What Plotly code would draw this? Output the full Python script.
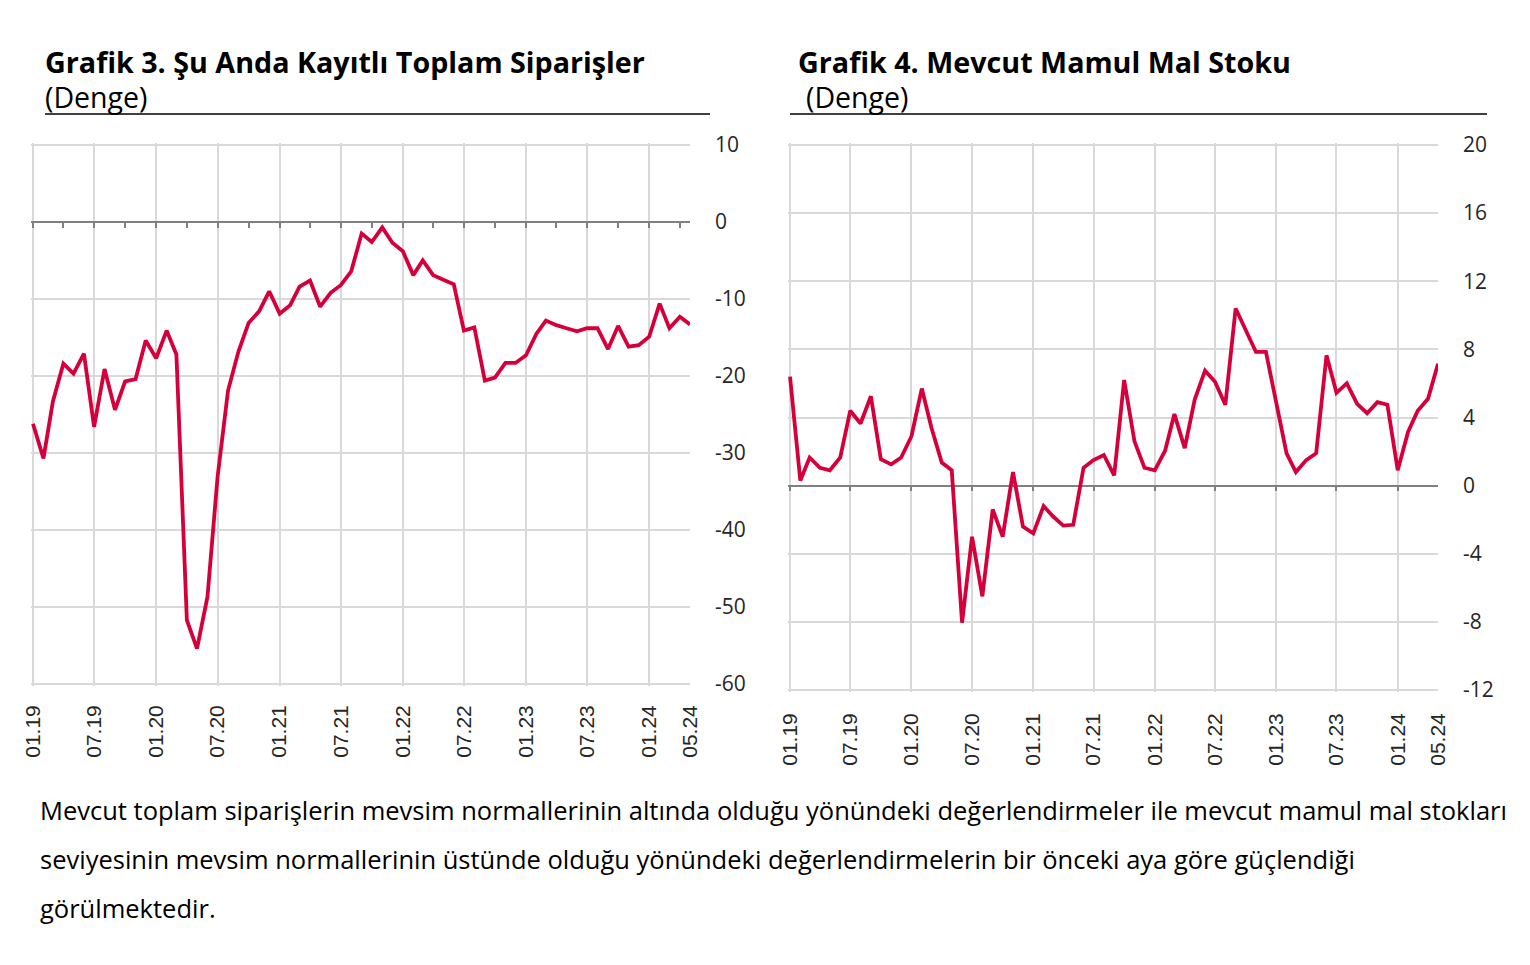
import pandas as pd
import plotly.graph_objects as go

W, H = 1530, 965

# ---- data ----
months = pd.date_range("2019-01-01", "2024-05-01", freq="MS")
label_months = list(pd.date_range("2019-01-01", "2024-01-01", freq="6MS")) + [pd.Timestamp("2024-05-01")]
label_text = [d.strftime("%m.%y") for d in label_months]
grid_months = list(pd.date_range("2019-01-01", "2024-01-01", freq="6MS"))
minor_months = list(pd.date_range("2019-01-01", "2024-04-01", freq="3MS"))

siparis = [-26.2, -30.7, -23.3, -18.4, -19.7, -17.1, -26.6, -19.1, -24.4, -20.7,
           -20.4, -15.4, -17.7, -14.1, -17.2, -51.7, -55.4, -48.7, -33.1, -21.9,
           -16.8, -13.1, -11.6, -9.0, -11.9, -10.8, -8.4, -7.6, -11.0, -9.2,
           -8.2, -6.4, -1.5, -2.6, -0.7, -2.7, -3.8, -6.9, -5.0, -6.9,
           -7.5, -8.1, -14.1, -13.7, -20.6, -20.2, -18.3, -18.3, -17.3, -14.5,
           -12.8, -13.4, -13.8, -14.2, -13.8, -13.8, -16.5, -13.5, -16.2, -16.0,
           -14.9, -10.6, -13.8, -12.3, -13.3]
stok = [6.4, 0.3, 1.65, 1.05, 0.9, 1.65, 4.4, 3.65, 5.25, 1.55,
        1.25, 1.65, 2.9, 5.7, 3.4, 1.35, 0.9, -8.05, -3.0, -6.5,
        -1.4, -3.0, 0.8, -2.4, -2.8, -1.2, -1.8, -2.35, -2.3, 1.05,
        1.5, 1.8, 0.6, 6.2, 2.6, 1.05, 0.9, 2.05, 4.2, 2.2,
        5.05, 6.75, 6.1, 4.75, 10.4, 9.2, 7.85, 7.85, 4.85, 1.9,
        0.8, 1.5, 1.9, 7.65, 5.45, 6.0, 4.8, 4.25, 4.9, 4.75,
        0.9, 3.15, 4.4, 5.1, 7.15]

y1_ticks = [10, 0, -10, -20, -30, -40, -50, -60]
y2_ticks = [20, 16, 12, 8, 4, 0, -4, -8, -12]
y1_text = [str(v) for v in y1_ticks]
y2_text = [str(v) for v in y2_ticks]

title1 = "Grafik 3. Şu Anda Kayıtlı Toplam Siparişler"
title2 = "Grafik 4. Mevcut Mamul Mal Stoku"
subtitle = "(Denge)"
paragraph = [
    "Mevcut toplam siparişlerin mevsim normallerinin altında olduğu yönündeki değerlendirmeler ile mevcut mamul mal stokları",
    "seviyesinin mevsim normallerinin üstünde olduğu yönündeki değerlendirmelerin bir önceki aya göre güçlendiği",
    "görülmektedir.",
]

# ---- layout geometry (pixels) ----
def px(x):
    return x / W

def py(y):
    return 1 - y / H

RED = "#D5003B"
GRID = "#D9D9D9"
AXIS = "#808080"
TXT = "#262626"
PAD = 2  # px of padding so edge gridlines are drawn

# plot boxes in pixels: left, right, top, bottom
box1 = (33, 690, 145, 684)
box2 = (790, 1438, 145, 690)

def y_setup(box, ticks):
    lo, hi = min(ticks), max(ticks)
    upp = (hi - lo) / (box[3] - box[2])  # units per px
    rng = [lo - PAD * upp, hi + PAD * upp]
    dom = [py(box[3] + PAD), py(box[2] - PAD)]
    return dom, rng

def x_setup(box):
    span = months[-1] - months[0]
    per_px = span / (box[1] - box[0])
    rng = [months[0] - PAD * per_px, months[-1]]
    dom = [px(box[0] - PAD), px(box[1])]
    return dom, rng

yd1, yr1 = y_setup(box1, y1_ticks)
yd2, yr2 = y_setup(box2, y2_ticks)
xd1, xr1 = x_setup(box1)
xd2, xr2 = x_setup(box2)

def zero_pos(dom, rng):
    return dom[0] + (0 - rng[0]) / (rng[1] - rng[0]) * (dom[1] - dom[0])

fig = go.Figure()

# helper (invisible) traces for base axes
fig.add_trace(go.Scatter(x=months, y=siparis, xaxis="x", yaxis="y", mode="lines",
                         line=dict(width=0), opacity=0, hoverinfo="skip", showlegend=False))
fig.add_trace(go.Scatter(x=months, y=stok, xaxis="x2", yaxis="y2", mode="lines",
                         line=dict(width=0), opacity=0, hoverinfo="skip", showlegend=False))
# visible data traces on zero-line axes
fig.add_trace(go.Scatter(x=months, y=siparis, xaxis="x3", yaxis="y", mode="lines",
                         line=dict(color=RED, width=3.8), showlegend=False))
fig.add_trace(go.Scatter(x=months, y=stok, xaxis="x4", yaxis="y2", mode="lines",
                         line=dict(color=RED, width=3.8), showlegend=False))

xlabel_common = dict(
    type="date", tickmode="array", tickvals=label_months, ticktext=label_text,
    tickangle=-90, showgrid=False, zeroline=False, showline=False, ticks="",
    automargin=False,
    tickfont=dict(family="Liberation Sans, Arial", size=21, color=TXT),
)
ylabel_common = dict(
    side="right", tickmode="array", showgrid=True, gridcolor=GRID, gridwidth=1.5,
    zeroline=False, showline=False, ticks="", ticklabelstandoff=24, automargin=False,
    tickfont=dict(family="Open Sans", size=21, color=TXT),
)
zero_common = dict(
    type="date", tickmode="array", tickvals=grid_months, showticklabels=False,
    showgrid=True, gridcolor=GRID, gridwidth=1.5, zeroline=False,
    showline=True, linecolor=AXIS, linewidth=1.5,
    ticks="outside", ticklen=5, tickcolor=AXIS, tickwidth=1.5,
    anchor="free", layer="below traces", automargin=False,
)

fig.update_layout(
    width=W, height=H, autosize=False,
    margin=dict(l=0, r=0, t=0, b=0, pad=0),
    paper_bgcolor="white", plot_bgcolor="white",
    xaxis=dict(domain=xd1, anchor="y", range=xr1, ticklabelstandoff=14, **xlabel_common),
    xaxis2=dict(domain=xd2, anchor="y2", range=xr2, ticklabelstandoff=16, **xlabel_common),
    yaxis=dict(domain=yd1, anchor="x", range=yr1, tickvals=y1_ticks, ticktext=y1_text, **ylabel_common),
    yaxis2=dict(domain=yd2, anchor="x2", range=yr2, tickvals=y2_ticks, ticktext=y2_text, **ylabel_common),
    xaxis3=dict(overlaying="x", range=xr1, position=zero_pos(yd1, yr1),
                minor=dict(tickvals=minor_months, ticks="outside", ticklen=5,
                           tickcolor=AXIS, tickwidth=1.5, showgrid=False),
                **zero_common),
    xaxis4=dict(overlaying="x2", range=xr2, position=zero_pos(yd2, yr2), **zero_common),
    showlegend=False,
)

def ann(text, x, y, size, bold=False, family="Open Sans", color="black"):
    fig.add_annotation(
        text=f"<b>{text}</b>" if bold else text,
        xref="paper", yref="paper", x=px(x), y=py(y),
        xanchor="left", yanchor="middle", showarrow=False,
        font=dict(family=family, size=size, color=color),
    )

ann(title1, 43, 62, 28.7, bold=True)
ann(subtitle, 43, 97, 28.5)
ann(title2, 796, 61, 28.7, bold=True)
ann(subtitle, 804, 97, 28.5)
for i, line in enumerate(paragraph):
    ann(line, 38, 810 + i * 49, 25.5, color="black")

fig.add_shape(type="line", xref="paper", yref="paper", x0=px(45), x1=px(710), y0=py(114), y1=py(114),
              line=dict(color="black", width=1.5))
fig.add_shape(type="line", xref="paper", yref="paper", x0=px(790), x1=px(1487), y0=py(114), y1=py(114),
              line=dict(color="black", width=1.5))

fig.write_html("out.html", config={"displayModeBar": False},
               post_script="document.body.style.margin='0';")
